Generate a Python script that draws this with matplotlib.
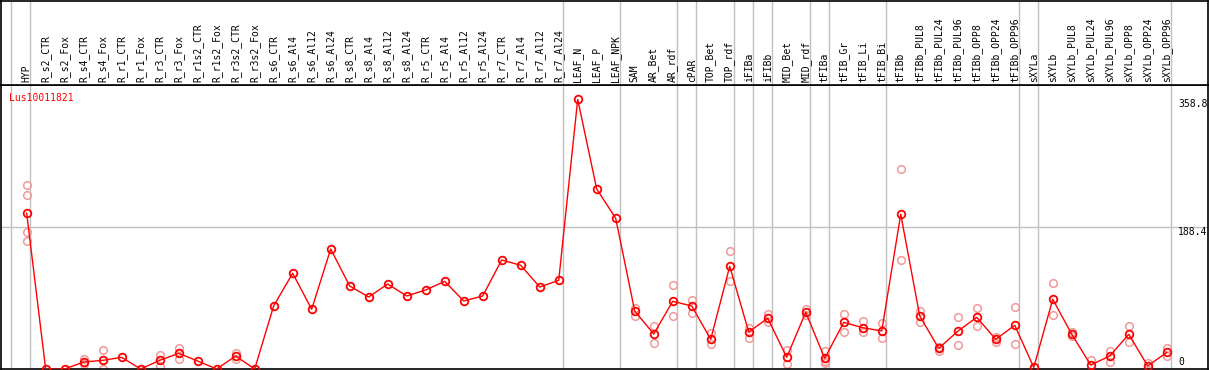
import matplotlib
matplotlib.use('Agg')
import matplotlib.pyplot as plt

# 样本名（61个）
samples = ['HYP', 'R_s2_CTR', 'R_s2_Fox', 'R_s4_CTR', 'R_s4_Fox', 'R_r1_CTR', 'R_r1_Fox',
           'R_r3_CTR', 'R_r3_Fox', 'R_r1s2_CTR', 'R_r1s2_Fox', 'R_r3s2_CTR', 'R_r3s2_Fox',
           'R_s6_CTR', 'R_s6_Al4', 'R_s6_Al12', 'R_s6_Al24', 'R_s8_CTR', 'R_s8_Al4',
           'R_s8_Al12', 'R_s8_Al24', 'R_r5_CTR', 'R_r5_Al4', 'R_r5_Al12', 'R_r5_Al24',
           'R_r7_CTR', 'R_r7_Al4', 'R_r7_Al12', 'R_r7_Al24', 'LEAF_N', 'LEAF_P', 'LEAF_NPK',
           'SAM', 'AR_Bet', 'AR_rdf', 'cPAR', 'TOP_Bet', 'TOP_rdf', 'iFIBa', 'iFIBb',
           'MID_Bet', 'MID_rdf', 'tFIBa', 'tFIB_Gr', 'tFIB_Li', 'tFIB_Bi', 'tFIBb',
           'tFIBb_PUL8', 'tFIBb_PUL24', 'tFIBb_PUL96', 'tFIBb_OPP8', 'tFIBb_OPP24',
           'tFIBb_OPP96', 'sXYLa', 'sXYLb', 'sXYLb_PUL8', 'sXYLb_PUL24', 'sXYLb_PUL96',
           'sXYLb_OPP8', 'sXYLb_OPP24', 'sXYLb_OPP96']

# 平均表达量
means = [207.6, 0, 0, 9.3, 11.5, 15.5, 0, 11.5, 20.9, 10.6, 0, 17.3, 0,
         84.0, 127.4, 79.5, 159.7, 110.5, 95.8, 113.1, 97.2, 105.2, 116.7, 90.5, 97.2,
         145.1, 138.0, 109.1, 118.0, 358.8, 239.6, 200.6,
         77.2, 46.6, 90.1, 83.9, 39.5, 136.7, 49.3, 67.5, 15.6, 75.5,
         14.2, 62.1, 55.0, 50.6, 205.9, 70.5, 27.5, 50.2, 68.8, 39.5, 58.2,
         2.2, 92.8, 46.2, 5.3, 17.3, 46.2, 4.0, 22.2]

# 重复样本（浅色圆圈）
reps = [[245, 231, 182, 171], [], [], [12.9, 6.7], [25, 0], [], [], [18.6, 4.4], [28, 12.9],
        [], [], [21.3, 12.9], [], [], [], [], [], [], [], [], [], [], [], [], [], [], [], [], [],
        [], [], [],
        [80.8, 70], [57.2, 34.2], [111.4, 70.1], [91.8, 74.5], [47.5, 33.3], [157, 117.5],
        [54.6, 41.7], [72.8, 62.2], [24.9, 6.2], [79.9, 71.9],
        [24.4, 7.6, 10.7], [72.8, 48.8], [63.5, 48.8], [60.8, 40.9], [265.8, 144.7],
        [76.8, 63], [24, 29], [68.8, 31.5], [80.8, 56.8], [42.2, 36], [82.1, 33.3],
        [], [114, 71.5], [49.3, 44.4], [11.6], [24.4, 9.8], [56.8, 36], [8], [27.5, 17.8]]

# 分组分隔线（在这些样本之后）
group_ends = [-1, 0, 28, 31, 34, 35, 37, 38, 39, 41, 42, 45, 52, 53, 60]

y_ticks = [0, 188.4, 358.8]
gene_id = 'Lus10011821'

W, H = 1209, 370
fig = plt.figure(figsize=(W / 100, H / 100), dpi=100)
x0 = -1.35
x1 = 62.17
top_px = 85
ax = fig.add_axes([1 / W, 1 / H, 1207 / W, (H - top_px - 1) / H])
hx = fig.add_axes([1 / W, (H - top_px) / H, 1207 / W, (top_px - 1) / H])

grey = '#c0c0c0'
for a in (ax, hx):
    a.set_xlim(x0, x1)
    a.set_xticks([])
    a.set_yticks([])
    for s in a.spines.values():
        s.set_color('black')
        s.set_linewidth(1.2)
    for g in group_ends:
        a.axvline(g + 0.2, color=grey, lw=1, zorder=0)

hx.set_ylim(0, 1)
ax.set_ylim(0, 378)
ax.axhline(188.4, color=grey, lw=1, zorder=0)

mono = 'DejaVu Sans Mono'
for i, name in enumerate(samples):
    hx.text(i, 0.04, name, rotation=90, ha='center', va='bottom',
            fontsize=7, family=mono)

xs = list(range(len(samples)))
for i, r in enumerate(reps):
    if r:
        ax.plot([i] * len(r), r, 'o', ms=5.5, mfc='none', mec='#f09a9a', mew=1.1, zorder=2)
ax.plot(xs, means, '-', color='red', lw=1, zorder=3)
ax.plot(xs, means, 'o', ms=5.5, mfc='none', mec='red', mew=1.3, zorder=4)

ax.text(60.6, 358.8, '358.8', ha='left', va='top', fontsize=7, family=mono)
ax.text(60.6, 188.4, '188.4', ha='left', va='top', fontsize=7, family=mono)
ax.text(60.6, 3, '0', ha='left', va='bottom', fontsize=7, family=mono)

ax.text(-0.95, 368, gene_id, color='red', ha='left', va='top', fontsize=7, family=mono)

fig.savefig('out.png', dpi=100)
